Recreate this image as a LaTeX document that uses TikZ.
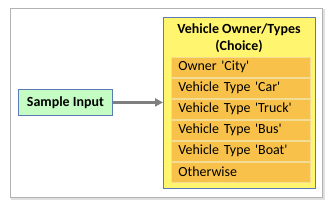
\documentclass[tikz,border=0pt]{standalone}
\usepackage{fontspec}
\setmainfont{Carlito}
\usetikzlibrary{arrows.meta}
\newcommand\sq{\textquotesingle}
\definecolor{boxblue}{HTML}{5A7BB5}
\definecolor{yellowfill}{HTML}{FFF56E}
\definecolor{orangefill}{HTML}{F8C24A}
\definecolor{orangeline}{HTML}{F3DC96}
\definecolor{greenfill}{HTML}{C4FCC4}
\definecolor{arrowgray}{HTML}{7F7F7F}
\tikzset{
  rowbox/.style={draw=orangeline, line width=0.8pt, fill=orangefill, minimum width=139bp, minimum height=19.5bp, anchor=north west, inner sep=0pt, text width=125bp, align=left, font=\fontsize{14}{16}\selectfont},
  inbox/.style={draw=boxblue, line width=0.8pt, fill=greenfill, minimum width=94bp, minimum height=26bp, anchor=north west, inner sep=0pt, font=\bfseries\fontsize{14}{16}\selectfont},
  choicebox/.style={draw=boxblue, line width=0.8pt, fill=yellowfill, minimum width=152bp, minimum height=171bp, anchor=north west, inner sep=0pt},
  titletext/.style={align=center, font=\bfseries\fontsize{14}{17}\selectfont, inner sep=0pt},
  conn/.style={draw=arrowgray, line width=2.6pt, -{Triangle[length=8bp,width=8bp]}}
}
\begin{document}
\begin{tikzpicture}[x=1bp,y=-1bp]
\useasboundingbox (0,0) rectangle (332,206);
\fill[white] (0,0) rectangle (332,206);
% frame shadow
\fill[black!25] (12,10) rectangle (324,199);
\fill[black!12] (11,9) rectangle (325,200);
\draw[black!30, line width=0.8pt, fill=white] (10,8) rectangle (322,197);
% choice box
\node[choicebox] (choice) at (163,17) {};
\node[titletext] (title) at (239,38.5) {Vehicle Owner/Types\\(Choice)};
\node[rowbox] (r1) at (171,57) {Owner \sq City\sq};
\node[rowbox] (r2) at (171,78) {Vehicle Type \sq Car\sq};
\node[rowbox] (r3) at (171,99) {Vehicle Type \sq Truck\sq};
\node[rowbox] (r4) at (171,120) {Vehicle Type \sq Bus\sq};
\node[rowbox] (r5) at (171,141) {Vehicle Type \sq Boat\sq};
\node[rowbox] (r6) at (171,162) {Otherwise};
% input
\node[inbox] (input) at (18,89) {Sample Input};
\draw[conn] (input.east) -- (input.east -| choice.west);
\end{tikzpicture}
\end{document}
